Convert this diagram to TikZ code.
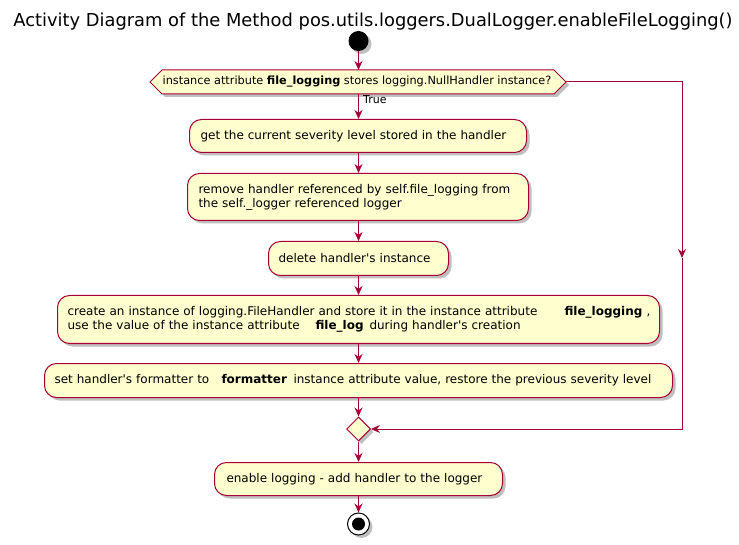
\documentclass[tikz,border=0pt]{standalone}
\usepackage{fontspec}
\setmainfont{DejaVu Sans}
\usetikzlibrary{arrows.meta,shadows,shapes.geometric}
\definecolor{pfill}{HTML}{FEFECE}
\definecolor{pline}{HTML}{A80036}
\newcommand\apos{\textquotesingle}
\tikzset{
  shad/.style={drop shadow={shadow xshift=3pt,shadow yshift=-3pt,opacity=0.25,fill=black}},
  act/.style={draw=pline, fill=pfill, line width=1pt, rounded corners=12pt, shad,
    font=\fontsize{12}{14}\selectfont, align=left, inner ysep=0pt, anchor=north west},
  flow/.style={draw=pline, line width=1pt, -{Stealth[length=9pt,width=8pt,inset=3pt]}},
}
\begin{document}
\begin{tikzpicture}[x=1pt,y=-1pt]
\useasboundingbox (0,0) rectangle (739,545);
\node[font=\fontsize{17.85}{21}\selectfont, anchor=base] (title) at (373,27) {Activity Diagram of the Method pos.utils.loggers.DualLogger.enableFileLogging()};
\node[circle, fill=black, minimum size=20pt, inner sep=0pt, shad] (start) at (358.5,41) {};
% decision hexagon
\coordinate (decN) at (358.5,70);
\coordinate (decS) at (358.5,94);
\coordinate (decE) at (566,82);
\fill[black, opacity=0.25] (153,85) -- (165,73) -- (557,73) -- (569,85) -- (557,97) -- (165,97) -- cycle;
\path[draw=pline, fill=pfill, line width=1pt] (150,82) -- (162,70) -- (554,70) -- (566,82) -- (554,94) -- (162,94) -- cycle;
\node[font=\fontsize{11.3}{13}\selectfont, inner sep=0pt] (dectext) at (357,82) {instance attribute \textbf{file\_logging} stores logging.NullHandler instance?};
\node[font=\fontsize{11}{13}\selectfont, anchor=base west, inner sep=0pt] (truelbl) at (363,104) {True};
% activities
\node[act, inner xsep=11pt, text width=315pt, minimum height=33pt] (a1) at (189,119) {get the current severity level stored in the handler};
\node[act, inner xsep=11pt, text width=319pt, minimum height=47pt] (a2) at (187,173) {remove handler referenced by self.file\_logging from\\the self.\_logger referenced logger};
\node[act, inner xsep=10pt, text width=160pt, minimum height=34pt] (a3) at (268,241) {delete handler\apos s instance};
\node[act, inner xsep=10pt, text width=582pt, minimum height=48pt] (a4) at (57,295) {\makebox[497pt][l]{create an instance of logging.FileHandler and store it in the instance attribute}\makebox[82pt][l]{\textbf{file\_logging}},\\\makebox[248pt][l]{use the value of the instance attribute}\makebox[54pt][l]{\textbf{file\_log}}during handler\apos s creation};
\node[act, inner xsep=10pt, text width=608pt, minimum height=34pt] (a5) at (44,363) {\makebox[167pt][l]{set handler\apos s formatter to}\makebox[72pt][l]{\textbf{formatter}}instance attribute value, restore the previous severity level};
\node[diamond, draw=pline, fill=pfill, line width=1pt, minimum width=24pt, minimum height=24pt, inner sep=0pt, shad] (merge) at (358.5,429) {};
\node[act, inner xsep=12pt, text width=264pt, minimum height=33pt] (a6) at (214,462) {enable logging - add handler to the logger};
\node[circle, draw=black, fill=white, line width=1pt, minimum size=22pt, inner sep=0pt, shad] (end) at (358.5,524) {};
\node[circle, fill=black, minimum size=13pt, inner sep=0pt] (endin) at (end.center) {};
% connectors
\draw[flow] (start) -- (decN);
\draw[flow] (decS) -- (a1.north -| decS);
\draw[flow] (a1.south -| decS) -- (a2.north -| decS);
\draw[flow] (a2.south -| decS) -- (a3.north -| decS);
\draw[flow] (a3.south -| decS) -- (a4.north -| decS);
\draw[flow] (a4.south -| decS) -- (a5.north -| decS);
\draw[flow] (a5.south -| decS) -- (merge.north);
\draw[flow] (merge.south) -- (a6.north -| decS);
\draw[flow] (a6.south -| decS) -- (end.north);
\coordinate (rt) at (682,82);
\coordinate (rmid) at (682,258);
\coordinate (rb) at (682,429);
\draw[flow] (decE) -- (rt) -- (rmid);
\draw[flow] (rmid) -- (rb) -- (merge.east);
\end{tikzpicture}
\end{document}
